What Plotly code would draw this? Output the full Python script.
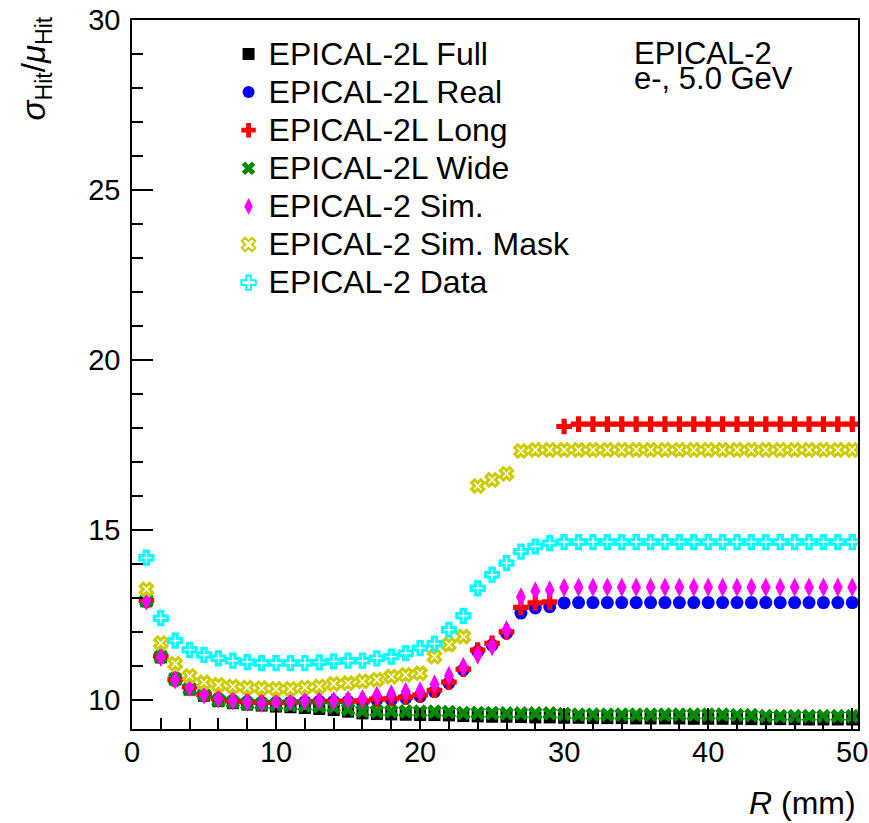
import plotly.graph_objects as go

R = list(range(1, 51))

full = [12.90, 11.25, 10.60, 10.30, 10.12, 9.96, 9.90, 9.86, 9.83, 9.80,
        9.78, 9.76, 9.73, 9.70, 9.65, 9.60, 9.58, 9.57, 9.56, 9.55,
        9.55, 9.54, 9.52, 9.51, 9.50, 9.50, 9.49, 9.48, 9.48, 9.47,
        9.47, 9.46, 9.46, 9.46, 9.45, 9.45, 9.45, 9.45, 9.44, 9.44,
        9.44, 9.44, 9.43, 9.43, 9.43, 9.43, 9.42, 9.42, 9.42, 9.42]

real = [12.92, 11.28, 10.60, 10.38, 10.16, 10.03, 9.97, 9.94, 9.92, 9.92,
        9.93, 9.94, 9.95, 9.95, 9.95, 9.93, 10.00, 10.00, 10.05, 10.10,
        10.24, 10.49, 10.88, 11.42, 11.61, 11.96, 12.55, 12.70, 12.74, 12.85,
        12.86, 12.86, 12.86, 12.86, 12.86, 12.86, 12.86, 12.86, 12.86, 12.86,
        12.86, 12.86, 12.86, 12.86, 12.86, 12.86, 12.86, 12.86, 12.86, 12.86]

long_ = [12.92, 11.28, 10.60, 10.38, 10.16, 10.03, 9.97, 9.94, 9.92, 9.92,
         9.93, 9.94, 9.95, 9.95, 9.96, 9.97, 10.02, 10.03, 10.08, 10.14,
         10.28, 10.52, 10.90, 11.46, 11.66, 12.00, 12.72, 12.85, 12.88, 18.04,
         18.11, 18.11, 18.11, 18.11, 18.11, 18.11, 18.11, 18.11, 18.11, 18.11,
         18.11, 18.11, 18.11, 18.11, 18.11, 18.11, 18.11, 18.11, 18.11, 18.11]

wide = [12.92, 11.27, 10.61, 10.33, 10.15, 9.98, 9.93, 9.88, 9.87, 9.86,
        9.84, 9.83, 9.81, 9.79, 9.72, 9.67, 9.66, 9.66, 9.66, 9.65,
        9.65, 9.64, 9.61, 9.61, 9.61, 9.60, 9.60, 9.60, 9.60, 9.58,
        9.56, 9.56, 9.56, 9.56, 9.56, 9.56, 9.56, 9.56, 9.56, 9.56,
        9.56, 9.55, 9.55, 9.52, 9.52, 9.52, 9.52, 9.52, 9.52, 9.52]

sim = [12.91, 11.25, 10.59, 10.37, 10.15, 10.03, 9.97, 9.93, 9.90, 9.92,
       9.95, 9.97, 9.98, 9.97, 10.00, 10.03, 10.13, 10.17, 10.24, 10.26,
       10.46, 10.71, 10.98, 11.32, 11.57, 12.06, 13.02, 13.20, 13.23, 13.30,
       13.31, 13.31, 13.31, 13.31, 13.31, 13.31, 13.31, 13.31, 13.31, 13.31,
       13.31, 13.31, 13.31, 13.31, 13.31, 13.31, 13.31, 13.31, 13.31, 13.31]

sim_mask = [13.25, 11.67, 11.06, 10.70, 10.51, 10.44, 10.39, 10.36, 10.34, 10.32,
            10.32, 10.36, 10.39, 10.47, 10.49, 10.54, 10.59, 10.68, 10.73, 10.78,
            11.27, 11.62, 11.86, 16.29, 16.47, 16.65, 17.32, 17.35, 17.35, 17.35,
            17.35, 17.35, 17.35, 17.35, 17.35, 17.35, 17.35, 17.35, 17.35, 17.35,
            17.35, 17.35, 17.35, 17.35, 17.35, 17.35, 17.35, 17.35, 17.35, 17.35]

data = [14.18, 12.40, 11.74, 11.47, 11.32, 11.22, 11.15, 11.11, 11.08, 11.08,
        11.08, 11.08, 11.10, 11.13, 11.15, 11.15, 11.22, 11.27, 11.37, 11.52,
        11.65, 12.06, 12.47, 13.28, 13.68, 14.02, 14.36, 14.51, 14.61, 14.64,
        14.64, 14.64, 14.64, 14.64, 14.64, 14.64, 14.64, 14.64, 14.64, 14.64,
        14.64, 14.64, 14.64, 14.64, 14.64, 14.64, 14.64, 14.64, 14.64, 14.64]

series = [
    ("EPICAL-2L Full", full, "#000000", "square", 12, 0),
    ("EPICAL-2L Real", real, "#0000ff", "circle", 13, 0),
    ("EPICAL-2L Long", long_, "#ff0000", "cross", 13, 0),
    ("EPICAL-2L Wide", wide, "#008a00", "x", 13, 0),
    ("EPICAL-2 Sim.", sim, "#ff00ff", "diamond-tall", 14, 0),
    ("EPICAL-2 Sim. Mask", sim_mask, "#cccc00", "x-open", 11, 3),
    ("EPICAL-2 Data", data, "#00ffff", "cross-open", 11, 3),
]

FONT = "Liberation Sans, Arial, sans-serif"

fig = go.Figure()
for name, ys, col, sym, size, lw in series:
    fig.add_trace(go.Scatter(
        x=R, y=ys, mode="markers",
        name='<span style="font-size:32px">' + name + '</span>',
        marker=dict(symbol=sym, size=size, color=col,
                    line=dict(color=col, width=lw)),
    ))

fig.update_layout(
    width=869, height=823,
    margin=dict(l=132, r=11, t=20, b=94, autoexpand=False),
    paper_bgcolor="white", plot_bgcolor="white",
    font=dict(family=FONT, size=29, color="black"),
    showlegend=True,
    legend=dict(x=0.133, y=0.986, xanchor="left", yanchor="top",
                bgcolor="rgba(0,0,0,0)", font=dict(size=27, family=FONT),
                tracegroupgap=0, itemsizing="constant"),
    xaxis=dict(range=[0, 50.4], showgrid=False, zeroline=False, automargin=False,
               showline=True, mirror=True, linecolor="black", linewidth=1.5,
               ticks="inside", ticklen=21, tickwidth=1.5, tickcolor="black",
               tick0=0, dtick=10, tickfont=dict(size=29), ticklabelstandoff=-4,
               ticklabeloverflow="allow",
               minor=dict(ticks="inside", ticklen=11, dtick=2, tickcolor="black",
                          tickwidth=1.5, showgrid=False)),
    yaxis=dict(range=[9.14, 30], showgrid=False, zeroline=False, automargin=False,
               showline=True, mirror=True, linecolor="black", linewidth=1.5,
               ticks="inside", ticklen=21, tickwidth=1.5, tickcolor="black",
               tick0=0, dtick=5, tickfont=dict(size=29), ticklabelstandoff=4,
               ticklabeloverflow="allow",
               minor=dict(ticks="inside", ticklen=11, dtick=1, tickcolor="black",
                          tickwidth=1.5, showgrid=False)),
)

fig.add_annotation(text="EPICAL-2", xref="paper", yref="paper",
                   x=0.689, y=0.9527, xanchor="left", yanchor="middle",
                   showarrow=False, font=dict(size=31, family=FONT))
fig.add_annotation(text="e-, 5.0 GeV", xref="paper", yref="paper",
                   x=0.689, y=0.9175, xanchor="left", yanchor="middle",
                   showarrow=False, font=dict(size=31, family=FONT))
fig.add_annotation(text="<i>R</i> (mm)", xref="paper", yref="paper",
                   x=1.0, y=-0.105, xanchor="right", yanchor="middle",
                   showarrow=False, font=dict(size=32, family=FONT))
fig.add_annotation(text="<i>σ</i><sub>Hit</sub>/<i>μ</i><sub>Hit</sub>",
                   xref="paper", yref="paper", x=-0.131, y=0.9316,
                   xanchor="center", yanchor="middle", textangle=-90,
                   showarrow=False, font=dict(size=33, family=FONT))

fig.write_html("out.html", config={"displayModeBar": False},
               post_script="document.body.style.margin='0px';"
                           "document.body.style.overflow='hidden';")
